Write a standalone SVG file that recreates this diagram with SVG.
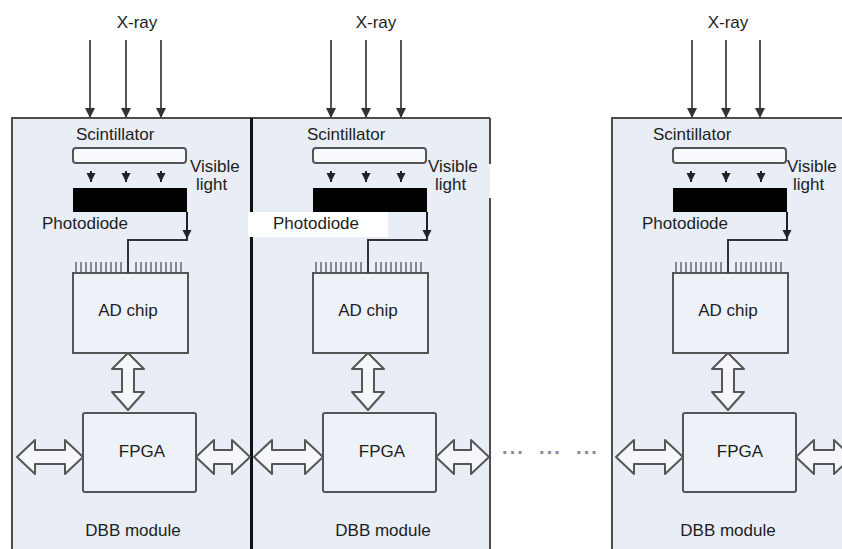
<svg xmlns="http://www.w3.org/2000/svg" width="842" height="549" viewBox="0 0 842 549">
  <defs>
    <marker id="xh" viewBox="0 0 10 10" refX="10" refY="5" markerWidth="11" markerHeight="10" markerUnits="userSpaceOnUse" orient="auto">
      <path d="M0,0 L10,5 L0,10 Z" fill="#333"/>
    </marker>
    <marker id="vh" viewBox="0 0 10 10" refX="10" refY="5" markerWidth="9" markerHeight="11" markerUnits="userSpaceOnUse" orient="auto">
      <path d="M0,0 L10,5 L0,10 Z" fill="#222"/>
    </marker>
    <style>
      .bg { fill: #e8edf6; stroke: none; }
      .border { fill: none; stroke: #4d4d4d; stroke-width: 2; }
      .divider { fill: none; stroke: #111; stroke-width: 3; }
      .box { fill: #edf1f8; stroke: #555; stroke-width: 2; }
      .scint { fill: #f8fafd; stroke: #555; stroke-width: 2; }
      .pd { fill: #000; }
      .t { font-family: "Liberation Sans", Arial, sans-serif; font-size: 17px; fill: #1e1e1e; }
      .mid { text-anchor: middle; }
      .xray { fill: none; stroke: #555; stroke-width: 2; marker-end: url(#xh); }
      .vis { fill: none; stroke: #222; stroke-width: 2; marker-end: url(#vh); }
      .wire { fill: none; stroke: #333; stroke-width: 2; }
      .pins { fill: none; stroke: #555; stroke-width: 1.3; }
      .darr { fill: #f4f6fa; stroke: #555; stroke-width: 2; stroke-linejoin: round; }
      .dots { font-family: "Liberation Sans", Arial, sans-serif; font-size: 20px; font-weight: bold; fill: #8a8a8a; letter-spacing: 1px; }
    </style>
  </defs>

  <rect x="0" y="0" width="842" height="549" fill="#ffffff"/>

  <!-- module backgrounds and borders -->
  <g id="module-frames">
    <rect class="bg" x="12" y="118" width="239" height="440"/>
    <rect class="bg" x="251" y="118" width="239" height="440"/>
    <rect class="bg" x="612" y="118" width="239" height="440"/>
    <path class="border" d="M12,560 V118 H251"/>
    <path class="border" d="M251,118 H490 M490,118 V164 M490,198 V560"/>
    <path class="border" d="M612,560 V118 H850"/>
    <path class="divider" d="M251.5,118 V212 M251.5,237 V560"/>
  </g>

  <!-- Module 1 -->
  <g id="module1">
    <g id="m1-xray-label"><text class="t mid" x="137" y="28">X-ray</text></g>
    <g id="m1-scintillator">
      <text class="t" x="76" y="140">Scintillator</text>
      <rect class="scint" x="73" y="148" width="113" height="15" rx="3"/>
    </g>
    <g id="m1-visible"><text class="t" x="190" y="172">Visible</text><text class="t" x="196" y="190">light</text></g>
    <g id="m1-photodiode">
      <rect class="pd" x="73" y="188" width="114" height="24"/>
      <text class="t" x="42" y="229">Photodiode</text>
    </g>
    <g id="m1-adchip">
      <rect class="box" x="73" y="273" width="115" height="80"/>
      <path class="pins" d="M76,262V273 M81,262V273 M86,262V273 M91,262V273 M96,262V273 M101,262V273 M106,262V273 M111,262V273 M116,262V273 M121,262V273 M136,262V273 M141,262V273 M146,262V273 M151,262V273 M156,262V273 M161,262V273 M166,262V273 M171,262V273 M176,262V273 M181,262V273"/>
      <text class="t mid" x="128" y="316">AD chip</text>
    </g>
    <g id="m1-fpga">
      <rect class="box" x="83" y="413" width="113" height="79" rx="2"/>
      <text class="t mid" x="142" y="457">FPGA</text>
    </g>
    <g id="m1-label"><text class="t mid" x="133" y="536">DBB module</text></g>
  </g>

  <!-- Module 2 -->
  <g id="module2">
    <g id="m2-xray-label"><text class="t mid" x="376" y="28">X-ray</text></g>
    <g id="m2-scintillator">
      <text class="t" x="307" y="140">Scintillator</text>
      <rect class="scint" x="313" y="148" width="113" height="15" rx="3"/>
    </g>
    <g id="m2-visible"><text class="t" x="428" y="172">Visible</text><text class="t" x="435" y="190">light</text></g>
    <g id="m2-photodiode">
      <rect class="pd" x="313" y="188" width="114" height="24"/>
      <rect x="248" y="212" width="140" height="25" fill="#ffffff"/>
      <text class="t" x="273" y="229">Photodiode</text>
    </g>
    <g id="m2-adchip">
      <rect class="box" x="313" y="273" width="115" height="80"/>
      <path class="pins" d="M316,262V273 M321,262V273 M326,262V273 M331,262V273 M336,262V273 M341,262V273 M346,262V273 M351,262V273 M356,262V273 M361,262V273 M376,262V273 M381,262V273 M386,262V273 M391,262V273 M396,262V273 M401,262V273 M406,262V273 M411,262V273 M416,262V273 M421,262V273"/>
      <text class="t mid" x="368" y="316">AD chip</text>
    </g>
    <g id="m2-fpga">
      <rect class="box" x="323" y="413" width="113" height="79" rx="2"/>
      <text class="t mid" x="382" y="457">FPGA</text>
    </g>
    <g id="m2-label"><text class="t mid" x="383" y="536">DBB module</text></g>
  </g>

  <!-- Module 3 -->
  <g id="module3">
    <g id="m3-xray-label"><text class="t mid" x="728" y="28">X-ray</text></g>
    <g id="m3-scintillator">
      <text class="t" x="653" y="140">Scintillator</text>
      <rect class="scint" x="673" y="148" width="113" height="15" rx="3"/>
    </g>
    <g id="m3-visible"><text class="t" x="787" y="172">Visible</text><text class="t" x="793" y="190">light</text></g>
    <g id="m3-photodiode">
      <rect class="pd" x="673" y="188" width="114" height="24"/>
      <text class="t" x="642" y="229">Photodiode</text>
    </g>
    <g id="m3-adchip">
      <rect class="box" x="673" y="273" width="115" height="80"/>
      <path class="pins" d="M676,262V273 M681,262V273 M686,262V273 M691,262V273 M696,262V273 M701,262V273 M706,262V273 M711,262V273 M716,262V273 M721,262V273 M736,262V273 M741,262V273 M746,262V273 M751,262V273 M756,262V273 M761,262V273 M766,262V273 M771,262V273 M776,262V273 M781,262V273"/>
      <text class="t mid" x="728" y="316">AD chip</text>
    </g>
    <g id="m3-fpga">
      <rect class="box" x="683" y="413" width="113" height="79" rx="2"/>
      <text class="t mid" x="740" y="457">FPGA</text>
    </g>
    <g id="m3-label"><text class="t mid" x="728" y="536">DBB module</text></g>
  </g>

  <g id="ellipsis">
    <text class="dots" x="502" y="459">···</text>
    <text class="dots" x="539" y="459">···</text>
    <text class="dots" x="576" y="459">···</text>
  </g>

  <!-- Connectors -->
  <g id="connectors">
    <!-- X-ray arrows -->
    <path class="xray" d="M90,40 V118"/>
    <path class="xray" d="M126,40 V118"/>
    <path class="xray" d="M161,40 V118"/>
    <path class="xray" d="M331,40 V118"/>
    <path class="xray" d="M366,40 V118"/>
    <path class="xray" d="M401,40 V118"/>
    <path class="xray" d="M692,40 V118"/>
    <path class="xray" d="M726,40 V118"/>
    <path class="xray" d="M760,40 V118"/>
    <!-- visible light arrows -->
    <path class="vis" d="M91,171 V182"/>
    <path class="vis" d="M126,171 V182"/>
    <path class="vis" d="M161,171 V182"/>
    <path class="vis" d="M331,171 V182"/>
    <path class="vis" d="M366,171 V182"/>
    <path class="vis" d="M401,171 V182"/>
    <path class="vis" d="M691,171 V182"/>
    <path class="vis" d="M726,171 V182"/>
    <path class="vis" d="M761,171 V182"/>
    <!-- photodiode to AD chip wires -->
    <path class="vis" d="M187,212 V239"/>
    <path class="wire" d="M188,240 H128 V273"/>
    <path class="vis" d="M427,212 V239"/>
    <path class="wire" d="M428,240 H368 V273"/>
    <path class="vis" d="M787,212 V239"/>
    <path class="wire" d="M788,240 H728 V273"/>
    <!-- AD chip <-> FPGA -->
    <path class="darr" d="M128,353 L144,369 L134,369 L134,392 L144,392 L128,410 L112,392 L122,392 L122,369 L112,369 Z"/>
    <path class="darr" d="M368,353 L384,369 L374,369 L374,392 L384,392 L368,410 L352,392 L362,392 L362,369 L352,369 Z"/>
    <path class="darr" d="M728,353 L744,369 L734,369 L734,392 L744,392 L728,410 L712,392 L722,392 L722,369 L712,369 Z"/>
    <!-- FPGA horizontal links -->
    <path class="darr" d="M17,457 L35,440 L35,450 L65,450 L65,440 L83,457 L65,474 L65,464 L35,464 L35,474 Z"/>
    <path class="darr" d="M196,457 L214,440 L214,450 L232,450 L232,440 L250,457 L232,474 L232,464 L214,464 L214,474 Z"/>
    <path class="darr" d="M254,457 L272,440 L272,450 L305,450 L305,440 L323,457 L305,474 L305,464 L272,464 L272,474 Z"/>
    <path class="darr" d="M436,457 L454,440 L454,450 L471,450 L471,440 L489,457 L471,474 L471,464 L454,464 L454,474 Z"/>
    <path class="darr" d="M616,457 L634,440 L634,450 L665,450 L665,440 L683,457 L665,474 L665,464 L634,464 L634,474 Z"/>
    <path class="darr" d="M796,457 L814,440 L814,450 L834,450 L834,440 L852,457 L834,474 L834,464 L814,464 L814,474 Z"/>
  </g>
</svg>
